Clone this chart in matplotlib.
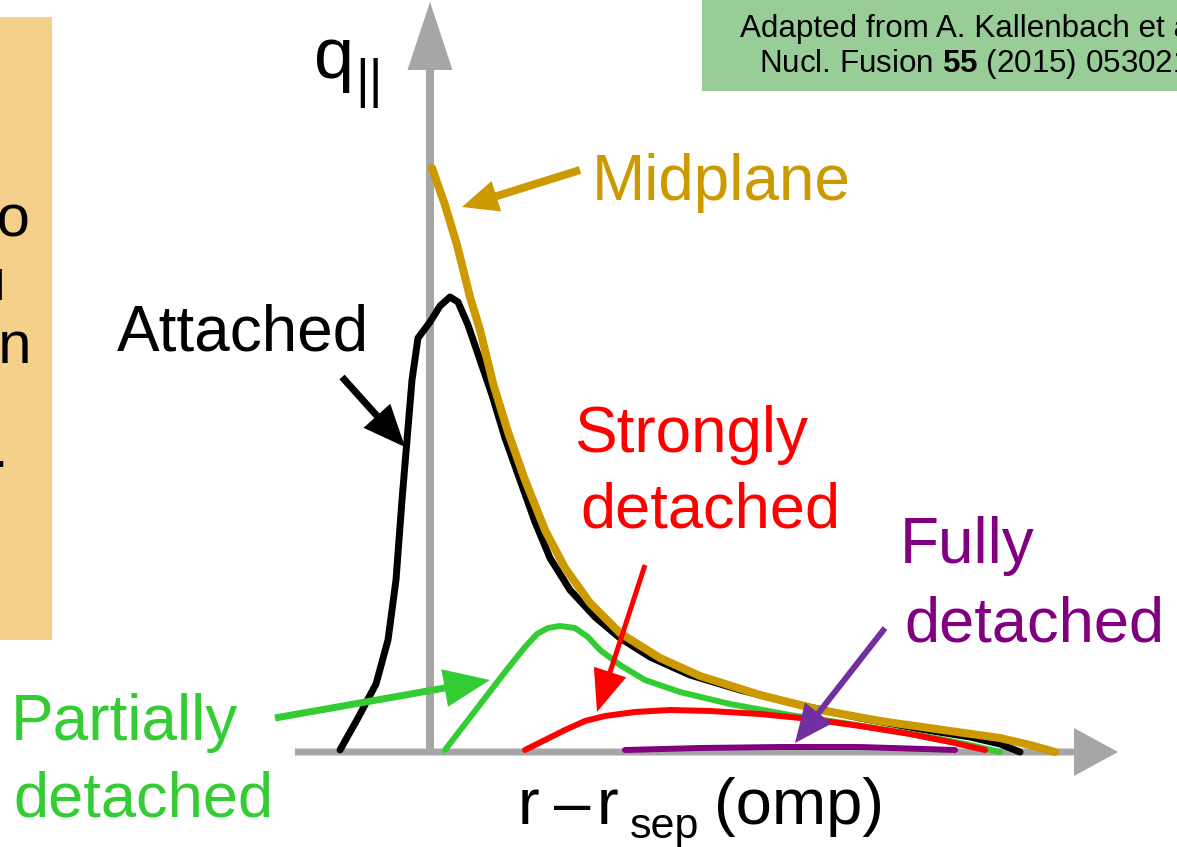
import matplotlib
matplotlib.use("Agg")
import matplotlib.pyplot as plt
from matplotlib.patches import FancyArrow, Rectangle

plt.rcParams['font.family'] = ['Liberation Sans', 'DejaVu Sans']
plt.rcParams['mathtext.fontset'] = 'custom'
plt.rcParams['mathtext.rm'] = 'Liberation Sans'
plt.rcParams['mathtext.bf'] = 'Liberation Sans:bold'

# ---------------- data (r - r_sep, q_parallel), arbitrary units ----------------
attached_r = [-0.90, -0.72, -0.54, -0.42, -0.34, -0.28, -0.23, -0.18, -0.12, 0.00, 0.10,
              0.20, 0.28, 0.38, 0.50, 0.62, 0.75, 0.90, 1.05, 1.20, 1.40, 1.65, 1.90,
              2.20, 2.60, 3.10, 3.70, 4.30, 4.90, 5.40, 5.70, 5.90]
attached_q = [0.02, 0.34, 0.68, 1.12, 1.72, 2.52, 3.12, 3.72, 4.14, 4.30, 4.46,
              4.55, 4.50, 4.27, 3.92, 3.57, 3.14, 2.72, 2.30, 1.94, 1.62, 1.35, 1.14,
              0.95, 0.77, 0.62, 0.47, 0.34, 0.23, 0.15, 0.08, 0.00]

midplane_r = [0.02, 0.15, 0.27, 0.40, 0.50, 0.63, 0.78, 0.95, 1.15, 1.35, 1.60, 1.90,
              2.30, 2.70, 3.30, 3.90, 4.50, 5.20, 5.70, 6.00, 6.25]
midplane_q = [5.84, 5.47, 5.07, 4.55, 4.22, 3.69, 3.20, 2.72, 2.22, 1.84, 1.49, 1.19,
              0.94, 0.76, 0.57, 0.42, 0.31, 0.21, 0.14, 0.07, 0.00]

partial_r = [0.15, 0.35, 0.55, 0.75, 0.95, 1.07, 1.18, 1.30, 1.45, 1.58, 1.70, 1.90,
             2.15, 2.50, 3.00, 3.60, 4.20, 4.70, 5.10, 5.40, 5.70]
partial_q = [0.02, 0.28, 0.54, 0.80, 1.05, 1.18, 1.24, 1.26, 1.24, 1.15, 1.02, 0.87,
             0.72, 0.60, 0.48, 0.37, 0.28, 0.20, 0.13, 0.07, 0.00]

strong_r = [0.95, 1.15, 1.35, 1.55, 1.75, 2.05, 2.40, 2.80, 3.30, 3.80, 4.30, 4.80, 5.20, 5.55]
strong_q = [0.02, 0.12, 0.22, 0.31, 0.36, 0.40, 0.42, 0.41, 0.38, 0.33, 0.26, 0.18, 0.10, 0.02]

full_r = [1.95, 2.70, 3.50, 4.30, 5.25]
full_q = [0.02, 0.04, 0.05, 0.05, 0.02]

GOLD = '#CC9900'
GREEN = '#33CC33'
RED = '#FF0000'
PURPLE = '#800080'
PURPLE_ARROW = '#7030A0'
GRAY = '#A6A6A6'


def P(x, y):
    """convert layout position (pixels from top-left) to data units"""
    return (x - 430) / 100.0, (752 - y) / 100.0


fig = plt.figure(figsize=(11.77, 8.47), dpi=100)
ax = fig.add_axes([0, 0, 1, 1])
ax.set_xlim(-4.30, 7.47)
ax.set_ylim(-0.95, 7.52)
ax.axis('off')


def arrow(start, tip, color, shaft, hw, hl, z=5):
    x0, y0 = P(*start)
    x1, y1 = P(*tip)
    ax.add_patch(FancyArrow(x0, y0, x1 - x0, y1 - y0, width=shaft / 100.0,
                            head_width=hw / 100.0, head_length=hl / 100.0,
                            length_includes_head=True, color=color, lw=0, zorder=z))


# boxes
bx0, by0 = P(0, 640)
bx1, by1 = P(52, 17)
ax.add_patch(Rectangle((bx0 - 0.1, by0), bx1 - bx0 + 0.1, by1 - by0,
                       facecolor='#F4D08B', edgecolor='none', zorder=0))
gx0, gy0 = P(702, 91)
gx1, gy1 = P(1190, -10)
ax.add_patch(Rectangle((gx0, gy0), gx1 - gx0, gy1 - gy0,
                       facecolor='#98CD98', edgecolor='none', zorder=0))

# axes arrows
arrow((430, 752), (430, 2), GRAY, 8, 45, 68, z=1)
arrow((295, 752), (1118, 752), GRAY, 7, 48, 44, z=1)

# curves
ax.plot(attached_r, attached_q, color='black', lw=5.0, solid_capstyle='round', zorder=2)
ax.plot(midplane_r, midplane_q, color=GOLD, lw=5.8, solid_capstyle='round', zorder=3)
ax.plot(partial_r, partial_q, color=GREEN, lw=4.3, solid_capstyle='round', zorder=3)
ax.plot(strong_r, strong_q, color=RED, lw=4.3, solid_capstyle='round', zorder=3)
ax.plot(full_r, full_q, color=PURPLE, lw=4.3, solid_capstyle='round', zorder=3)

# annotation arrows
arrow((580, 170), (462, 207), GOLD, 8, 32, 36)
arrow((342, 377), (405, 447), 'black', 7, 36, 42)
arrow((275, 718), (490, 680), GREEN, 7, 38, 46)
arrow((645, 565), (597, 712), RED, 5, 34, 42)
arrow((885, 628), (795, 743), PURPLE_ARROW, 6, 34, 38)


def label(x, y, s, size, color='black', ha='left'):
    tx, ty = P(x, y)
    ax.text(tx, ty, s, fontsize=size, color=color, ha=ha, va='baseline', zorder=6)


label(592, 200, 'Midplane', 46, GOLD)
label(117, 350, 'Attached', 46)
label(574, 452, 'Strongly', 46, RED)
label(580, 528, 'detached', 45.5, RED)
label(900, 563, 'Fully', 46, PURPLE)
label(904, 642, 'detached', 45.5, PURPLE)
label(11, 740, 'Partially', 46, GREEN)
label(13, 816, 'detached', 45.5, GREEN)

# axis labels
label(314, 78, 'q', 52)
label(355, 97, '||', 38)
label(518, 824, 'r', 47)
label(554, 824, '\u2013', 47)
label(597, 824, 'r', 47)
label(630, 838, 'sep', 31)
label(714, 824, '(omp)', 47)

# clipped text in left box
label(30, 237, 'to', 43, ha='right')
label(7, 300, '\u0131', 43, ha='right')
label(32, 363, 'on', 43, ha='right')
label(8, 467, '.', 43, ha='right')

# citation box
label(740, 37, 'Adapted from A. Kallenbach et al.,', 22.6)
label(759, 72, r'Nucl. Fusion $\mathbf{55}$ (2015) 053021', 22.6)

fig.savefig('out.png', dpi=100)
